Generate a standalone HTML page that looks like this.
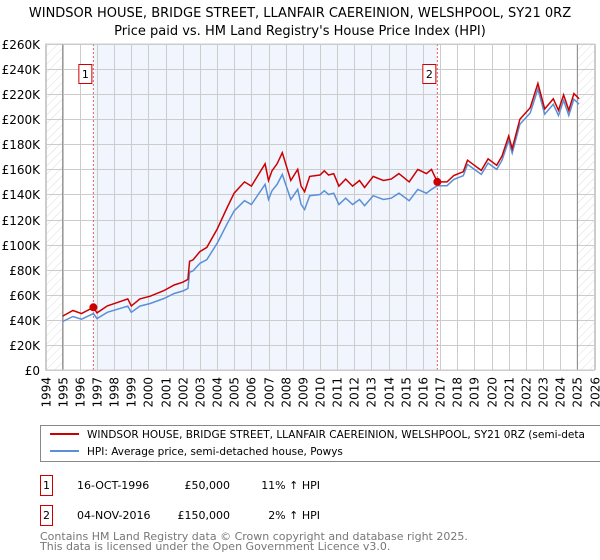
<!DOCTYPE html>
<html><head><meta charset="utf-8"><style>
body{margin:0;background:#fff;width:600px;height:560px;overflow:hidden;position:relative;font-family:"DejaVu Sans","Liberation Sans",sans-serif}
svg text{font-family:"DejaVu Sans","Liberation Sans",sans-serif}
.xl{position:absolute;top:377px;font-size:12px;line-height:14px;width:14px;height:40px;text-align:end;writing-mode:vertical-rl;writing-mode:sideways-lr;white-space:nowrap}
</style></head><body>
<svg id="c" width="600" height="560" xmlns="http://www.w3.org/2000/svg" style="position:absolute;left:0;top:0">
<defs><pattern id="hatch" width="6" height="6" patternUnits="userSpaceOnUse" patternTransform="rotate(45)"><line x1="0" y1="0" x2="0" y2="6" stroke="#ddd" stroke-width="1"/></pattern></defs>
<text x="300" y="17" text-anchor="middle" font-size="13">WINDSOR HOUSE, BRIDGE STREET, LLANFAIR CAEREINION, WELSHPOOL, SY21 0RZ</text>
<text x="300" y="35" text-anchor="middle" font-size="13">Price paid vs. HM Land Registry's House Price Index (HPI)</text>
<g id="plot"></g>
<g>
<rect x="40.5" y="425.5" width="570" height="36" fill="#fff" stroke="#888"/>
<line x1="50" y1="434" x2="79" y2="434" stroke="#cc0000" stroke-width="2"/>
<text x="87" y="438" font-size="10.5">WINDSOR HOUSE, BRIDGE STREET, LLANFAIR CAEREINION, WELSHPOOL, SY21 0RZ (semi-deta</text>
<line x1="50" y1="451" x2="79" y2="451" stroke="#5b8fd6" stroke-width="2"/>
<text x="87" y="455" font-size="10.5">HPI: Average price, semi-detached house, Powys</text>
</g>
<g font-size="11">
<rect x="40.5" y="475.5" width="12" height="20" fill="#fff" stroke="#cc0000"/>
<text x="46.5" y="489" text-anchor="middle">1</text>
<text x="77" y="489">16-OCT-1996</text>
<text x="230" y="489" text-anchor="end">£50,000</text>
<text x="320" y="489" text-anchor="end">11% ↑ HPI</text>
<rect x="40.5" y="505.5" width="12" height="20" fill="#fff" stroke="#cc0000"/>
<text x="46.5" y="519" text-anchor="middle">2</text>
<text x="77" y="519">04-NOV-2016</text>
<text x="230" y="519" text-anchor="end">£150,000</text>
<text x="320" y="519" text-anchor="end">2% ↑ HPI</text>
</g>
<text x="40" y="540" font-size="11" fill="#777">Contains HM Land Registry data © Crown copyright and database right 2025.</text>
<text x="40" y="550" font-size="11" fill="#777">This data is licensed under the Open Government Licence v3.0.</text>
</svg>
<div id="xlabels"></div>
<script>
const hpiYears=[1995.0,1995.6,1996.1,1996.79,1997.0,1997.6,1998.2,1998.8,1999.0,1999.5,2000.1,2000.9,2001.5,2002.0,2002.3,2002.4,2002.6,2003.0,2003.4,2004.0,2004.6,2005.0,2005.6,2006.0,2006.4,2006.8,2007.0,2007.2,2007.5,2007.8,2008.3,2008.7,2008.9,2009.1,2009.4,2010.0,2010.25,2010.5,2010.8,2011.1,2011.5,2011.9,2012.3,2012.6,2013.1,2013.7,2014.15,2014.6,2015.2,2015.7,2016.2,2016.5,2016.84,2017.4,2017.8,2018.35,2018.6,2019.0,2019.4,2019.8,2020.3,2020.6,2021.0,2021.2,2021.65,2022.25,2022.7,2023.1,2023.6,2023.9,2024.2,2024.5,2024.8,2025.1];
const hpiValues=[38.7,42.7,40.5,45,41,46,48.5,51,46,51,53,57,61,63,65,78,79,85,88,101,117,127,135,132,140,148,136,143,148,156,136,144,132,128,139,140,143,140,141,132,137,132,136,131,139,136,137,141,135,144,141,144,147,147,152,155,164,160,156,165,160,167,183,173,196,205,224,204,212,203,215,203,216,212];
const saleYears=[1996.79,2016.84];
const salePrices=[50,150];
const yTicks=[0,20,40,60,80,100,120,140,160,180,200,220,240,260];
const xTickYears=[1994,1995,1996,1997,1998,1999,2000,2001,2002,2003,2004,2005,2006,2007,2008,2009,2010,2011,2012,2013,2014,2015,2016,2017,2018,2019,2020,2021,2022,2023,2024,2025,2026];
const NS='http://www.w3.org/2000/svg';
const L=45.5,R=594.5,T=44,B=370;
const X=y=>L+(y-1994)/32*(R-L);
const Y=v=>B-v/260*(B-T);
const g=document.getElementById('plot');
const xl=document.getElementById('xlabels');
function mk(t,a,p){const e=document.createElementNS(NS,t);for(const k in a)e.setAttribute(k,a[k]);(p||g).appendChild(e);return e;}
let e;
e=mk('rect',{x:L,y:T,width:R-L,height:B-T,fill:'#fff'});


e=mk('rect',{x:X(saleYears[0]),y:T,width:X(saleYears[1])-X(saleYears[0]),height:B-T,fill:'#f1f5fd'});


e=mk('rect',{x:L,y:T,width:X(1995)-L,height:B-T,fill:'url(#hatch)'});


e=mk('rect',{x:X(2025),y:T,width:R-X(2025),height:B-T,fill:'url(#hatch)'});


xTickYears.forEach(yr=>{
 const x=Math.round(X(yr))+0.5;
 e=mk('line',{x1:x,y1:T,x2:x,y2:B,stroke:'#ccc','stroke-width':1});
 
 
 const d=document.createElement('div');
 d.className='xl';
 d.style.left=(x-7)+'px';
 d.textContent=yr;
 
 
 xl.appendChild(d);
});
yTicks.forEach(v=>{
 const y=Math.round(Y(v))+0.5;
 e=mk('line',{x1:L,y1:y,x2:R,y2:y,stroke:'#ccc','stroke-width':1});
 
 
 e=mk('text',{x:40,y:y+4.5,'font-size':12,'text-anchor':'end'});
 e.textContent=v===0?'£0':'£'+v+'K';
 
 
});
e=mk('line',{x1:X(1995),y1:T,x2:X(1995),y2:B,stroke:'#888','stroke-width':1});


e=mk('line',{x1:X(2025),y1:T,x2:X(2025),y2:B,stroke:'#888','stroke-width':1});


function interp(yr){for(let i=1;i<hpiYears.length;i++){if(yr<=hpiYears[i]){const t=(yr-hpiYears[i-1])/(hpiYears[i]-hpiYears[i-1]);return hpiValues[i-1]+t*(hpiValues[i]-hpiValues[i-1]);}}return hpiValues[hpiValues.length-1];}
const h0=interp(saleYears[0]),h1=interp(saleYears[1]);
const redVals=hpiYears.map((yr,i)=>yr<saleYears[1]?hpiValues[i]*salePrices[0]/h0:hpiValues[i]*salePrices[1]/h1);
saleYears.forEach((s,i)=>{
 e=mk('line',{x1:X(s),y1:T,x2:X(s),y2:B,stroke:'#e06060','stroke-width':1,'stroke-dasharray':'2,2'});
 
 
 e=mk('rect',{x:X(s)-14.5,y:64.5,width:13,height:19,fill:'#fff',stroke:'#cc0000'});
 
 
 e=mk('text',{x:X(s)-8,y:78,'font-size':11,'text-anchor':'middle'});
 e.textContent=String(i+1);
 
 
});
const pts=v=>hpiYears.map((yr,i)=>X(yr).toFixed(1)+','+Y(v[i]).toFixed(1)).join(' ');
e=mk('polyline',{points:pts(hpiValues),fill:'none',stroke:'#5b8fd6','stroke-width':1.5});


e=mk('polyline',{points:pts(redVals),fill:'none',stroke:'#cc0000','stroke-width':1.5});


saleYears.forEach((s,i)=>{
 e=mk('circle',{cx:X(s),cy:Y(salePrices[i]),r:4,fill:'#cc0000'});
 
 
});
e=mk('rect',{x:L,y:T,width:R-L,height:B-T,fill:'none',stroke:'#ccc'});


</script>
</body></html>
